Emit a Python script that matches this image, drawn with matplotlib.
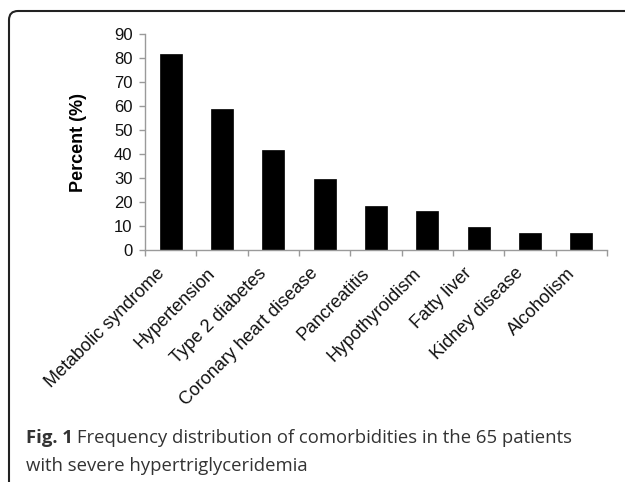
import numpy as np
import matplotlib.pyplot as plt
from matplotlib.patches import FancyBboxPatch
from matplotlib.transforms import IdentityTransform, ScaledTranslation

# data
categories = ["Metabolic syndrome", "Hypertension", "Type 2 diabetes",
              "Coronary heart disease", "Pancreatitis", "Hypothyroidism",
              "Fatty liver", "Kidney disease", "Alcoholism"]
percent = [81.5, 58.9, 41.8, 29.6, 18.5, 16.2, 9.6, 7.0, 7.0]
yticks = [0, 10, 20, 30, 40, 50, 60, 70, 80, 90]

W, H = 625, 482
fig = plt.figure(figsize=(W / 100, H / 100), dpi=100)
ax = fig.add_axes([145 / W, 1 - 250 / H, (607 - 145) / W, (250 - 34) / H])

x = np.arange(len(categories))
ax.bar(x, percent, width=0.43, color="black", edgecolor="black", linewidth=0.5)

ax.set_xlim(-0.5, len(categories) - 0.5)
ax.set_ylim(0, 90)
ax.set_yticks(yticks)
ax.set_xticks(x)
ax.set_xticks(np.arange(len(categories) + 1) - 0.5, minor=True)

axis_col = "#9a9a9a"
for s in ["top", "right"]:
    ax.spines[s].set_visible(False)
for s in ["left", "bottom"]:
    ax.spines[s].set_color(axis_col)
    ax.spines[s].set_linewidth(1.0)

ax.tick_params(axis="y", direction="out", length=4, width=1, color=axis_col,
               pad=5, labelsize=12, labelcolor="#111111")
ax.tick_params(axis="x", which="major", length=0, pad=2)
ax.tick_params(axis="x", which="minor", direction="out", length=4, width=1,
               color=axis_col)
ax.set_xticklabels(categories, rotation=45, ha="right", va="top",
                   rotation_mode="anchor", fontsize=13, color="#111111")
shift = ScaledTranslation(-15 / 100, -12 / 100, fig.dpi_scale_trans)
for lab in ax.get_xticklabels():
    lab.set_transform(lab.get_transform() + shift)
for lab in ax.get_xticklabels() + ax.get_yticklabels():
    lab.set_family("Liberation Sans")

ax.set_ylabel("Percent (%)", fontsize=13, fontweight="bold",
              family="Liberation Sans", labelpad=19)

# rounded frame (only top-left corner visible)
frame = FancyBboxPatch((9, -30), 700, H - 11 + 30,
                       boxstyle="round,pad=0,rounding_size=9",
                       transform=IdentityTransform(), fill=False,
                       edgecolor="#222222", linewidth=1.5)
fig.add_artist(frame)

# caption
cap_col = "#333333"
cap_size = 13.3
t1 = fig.text(26 / W, 1 - 443 / H, "Fig. 1", fontsize=cap_size, fontweight="bold",
              family="Open Sans", color=cap_col, va="baseline")
fig.canvas.draw()
bb = t1.get_window_extent()
fig.text(bb.x1 / W + 4 / W, 1 - 443 / H, "Frequency distribution of comorbidities in the 65 patients",
         fontsize=cap_size, family="Open Sans", color=cap_col, va="baseline")
fig.text(26 / W, 1 - 471 / H, "with severe hypertriglyceridemia",
         fontsize=cap_size, family="Open Sans", color=cap_col, va="baseline")

fig.savefig("out.png", dpi=100)
